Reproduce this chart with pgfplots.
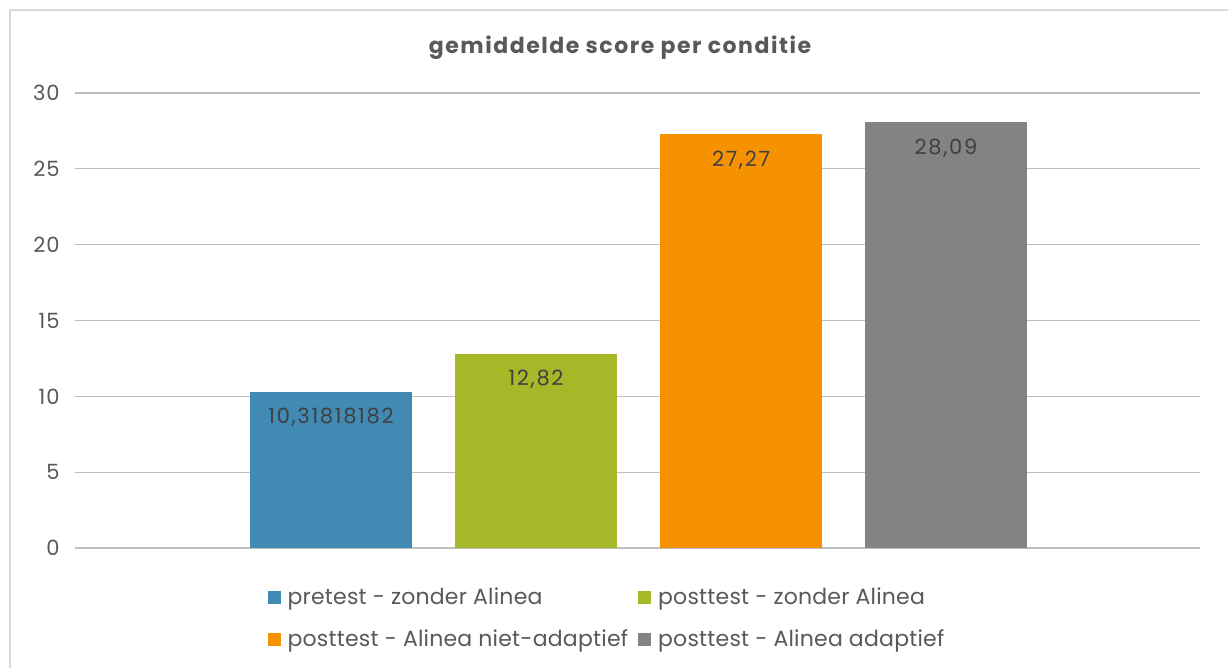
\documentclass[border=0pt]{standalone}
\usepackage{fontspec}
\setmainfont{Poppins}
\usepackage{pgfplots}
\pgfplotsset{compat=1.18}
\definecolor{cblue}{HTML}{418AB3}
\definecolor{cgreen}{HTML}{A6B727}
\definecolor{corange}{HTML}{F69200}
\definecolor{cgray}{HTML}{838383}
\definecolor{txt}{HTML}{595959}
\definecolor{lbl}{HTML}{404040}
\definecolor{grid}{HTML}{D9D9D9}
\begin{document}
\begin{tikzpicture}
\useasboundingbox (0,0) rectangle (1228bp,668bp);
\fill[white] (0,0) rectangle (1228bp,668bp);
\draw[grid, line width=2bp] (10bp,0) -- (10bp,658bp) -- (1228bp,658bp);
\node[font=\fontsize{22bp}{26bp}\selectfont\bfseries\addfontfeatures{LetterSpace=7}, text=txt] at (620bp,620bp) {gemiddelde score per conditie};
\begin{axis}[
  at={(75bp,120bp)}, anchor=south west,
  scale only axis, width=1125bp, height=455bp,
  xmin=75, xmax=1200, ymin=0, ymax=30,
  ytick={0,5,...,30}, xtick=\empty,
  ymajorgrids, grid style={grid, line width=1.3bp},
  axis line style={draw=none}, major tick length=0pt,
  /pgf/number format/assume math mode=true,
  yticklabel style={font=\fontsize{21bp}{24bp}\selectfont\addfontfeatures{LetterSpace=4}, text=txt, xshift=-12bp},
  ybar, bar width=162, bar shift=0pt,
  nodes near coords, point meta=explicit symbolic,
  every node near coord/.append style={anchor=center, yshift=-26bp, font=\fontsize{21bp}{24bp}\selectfont\addfontfeatures{LetterSpace=8}, text=lbl},
  legend columns=2,
  legend style={draw=none, fill=none, at={(0.171,-0.083)}, anchor=north west,
    font=\fontsize{22bp}{26bp}\selectfont\addfontfeatures{LetterSpace=1}, text=txt,
    row sep=20bp, inner sep=0pt,
    /tikz/every odd column/.append style={column sep=5bp},
    /tikz/every even column/.append style={column sep=8bp}},
  legend cell align=left,
  legend image code/.code={\path[#1, draw=none] (0bp,-6.5bp) rectangle (13bp,6.5bp);},
]
\addplot[fill=cblue, draw=none] coordinates {(331,10.31818182) [10{,}31818182]};
\addlegendentry{pretest - zonder Alinea}
\addplot[fill=cgreen, draw=none] coordinates {(536,12.82) [12{,}82]};
\addlegendentry{posttest - zonder Alinea}
\addplot[fill=corange, draw=none] coordinates {(741,27.27) [27{,}27]};
\addlegendentry{posttest - Alinea niet-adaptief}
\addplot[fill=cgray, draw=none] coordinates {(946,28.09) [28{,}09]};
\addlegendentry{posttest - Alinea adaptief}
\end{axis}
\end{tikzpicture}
\end{document}
